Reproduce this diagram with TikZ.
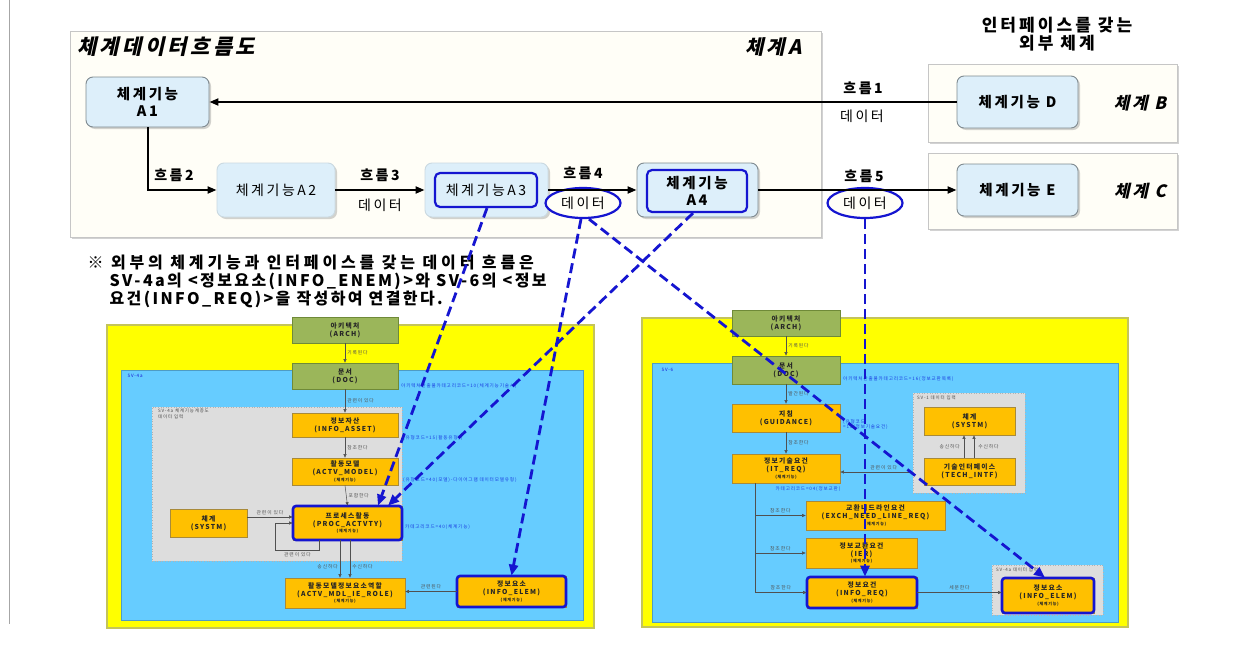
\documentclass[tikz,border=0pt]{standalone}
\usepackage{fontspec}
\setmainfont{Noto Sans CJK KR}[LetterSpace=18]
\newfontfamily\krit{Noto Sans CJK KR}[FakeSlant=0.22,LetterSpace=16]
\usetikzlibrary{arrows.meta,shadows,shapes.geometric}
\definecolor{frameC}{HTML}{FFFEF7}
\definecolor{frameD}{HTML}{C6C6C6}
\definecolor{funcC}{HTML}{DDEFFA}
\definecolor{funcD}{HTML}{7F8A90}
\definecolor{accent}{HTML}{1515D0}
\definecolor{yel}{HTML}{FFFF00}
\definecolor{yelD}{HTML}{C4C45A}
\definecolor{pnl}{HTML}{66CCFF}
\definecolor{pnlD}{HTML}{4E9CC4}
\definecolor{grayP}{HTML}{DDDDDD}
\definecolor{grn}{HTML}{9BB65A}
\definecolor{grnD}{HTML}{6F8A38}
\definecolor{org}{HTML}{FFC000}
\definecolor{orgD}{HTML}{A88A3A}
\definecolor{tinyblue}{HTML}{1A3CE0}
\definecolor{edgeG}{HTML}{505050}
\newcommand{\subl}[1]{\\[-1.5pt]{\fontsize{4}{4.5}\selectfont #1}}
\begin{document}
\begin{tikzpicture}[x=1pt,y=-1pt,
  shad/.style={drop shadow={shadow xshift=2pt,shadow yshift=-2pt,opacity=0.35}},
  frame/.style={draw=frameD,fill=frameC,line width=0.8pt,inner sep=0pt,shad},
  func/.style={draw=funcD,fill=funcC,rounded corners=7pt,line width=0.9pt,align=center,inner sep=2pt,shad},
  inner/.style={draw=accent,rounded corners=5pt,line width=2.2pt,align=center,inner sep=1pt},
  dataell/.style={ellipse,draw=accent,fill=frameC,line width=2.2pt,inner sep=0pt,minimum width=75pt,minimum height=30pt,font=\fontsize{14}{16}\selectfont},
  lbl/.style={font=\fontsize{14}{16}\selectfont},
  blbl/.style={font=\bfseries\fontsize{14}{16}\selectfont},
  itl/.style={font=\krit\bfseries\fontsize{17}{20}\selectfont},
  flow/.style={draw=black,line width=2pt,-{Triangle[length=9pt,width=7pt]}},
  yelp/.style={draw=yelD,fill=yel,line width=1.2pt,inner sep=0pt},
  bluep/.style={draw=pnlD,fill=pnl,line width=0.8pt,inner sep=0pt},
  grayp/.style={draw=gray!60,fill=grayP,line width=0.6pt,dotted,inner sep=0pt},
  plab/.style={anchor=west,font=\fontsize{4.5}{5.5}\selectfont,text=accent},
  gbox/.style={draw=grnD,fill=grn,line width=0.7pt,align=center,inner sep=1pt,font=\bfseries\fontsize{6.8}{8}\selectfont,text=black!85},
  obox/.style={draw=orgD,fill=org,line width=0.7pt,align=center,inner sep=1pt,font=\bfseries\fontsize{6.8}{8}\selectfont,text=black!85},
  sel/.style={draw=accent,line width=2.6pt,rounded corners=3pt},
  sarr/.style={draw=edgeG,line width=0.5pt,-{Triangle[length=3.5pt,width=3pt]}},
  elab/.style={font=\fontsize{4.8}{5.5}\selectfont,text=edgeG,inner sep=2pt},
  blab/.style={anchor=west,font=\fontsize{4.6}{5.5}\selectfont,text=tinyblue,inner sep=1pt},
  note/.style={anchor=west,font=\bfseries\fontsize{16}{18}\selectfont},
  link/.style={draw=accent,line width=2.8pt,dash pattern=on 10pt off 5pt,-{Triangle[length=11pt,width=9pt]}}
]
\useasboundingbox (0,0) rectangle (1233,645);
\fill[white] (0,0) rectangle (1233,645);
\draw[gray!70,line width=0.8pt] (9,0) -- (9,624);

% ---------- top frames ----------
\node[frame,minimum width=751pt,minimum height=206pt] (frA) at (445.5,134) {};
\node[frame,minimum width=249pt,minimum height=78pt] (frB) at (1052.5,103) {};
\node[frame,minimum width=249pt,minimum height=76pt] (frC) at (1052.5,191) {};
\node[anchor=west,font=\krit\bfseries\fontsize{21}{24}\selectfont,inner sep=0pt] (title) at (77,47) {체계데이터흐름도};
\node[anchor=east,font=\krit\bfseries\fontsize{20}{24}\selectfont,inner sep=0pt] (sysA) at (802,47) {체계A};
\node[font=\bfseries\fontsize{17}{18.5}\selectfont,align=center] (hdr) at (1057,34) {인터페이스를 갖는\\외부 체계};
\node[itl] (sysB) at (1140,103) {체계 B};
\node[itl] (sysC) at (1140,191) {체계 C};

% ---------- function boxes ----------
\node[func,minimum width=123pt,minimum height=50pt,font=\bfseries\fontsize{14.5}{17}\selectfont] (A1) at (147.5,102) {체계기능\\A1};
\node[func,draw=funcC!80!gray,minimum width=118pt,minimum height=54pt,font=\fontsize{14}{16}\selectfont] (A2) at (276,190) {체계기능A2};
\node[func,draw=funcC!80!gray,minimum width=123pt,minimum height=54pt] (A3o) at (486.5,190) {};
\node[inner,minimum width=102pt,minimum height=34pt,font=\fontsize{14}{16}\selectfont] (A3) at (486,190) {체계기능A3};
\node[func,minimum width=121pt,minimum height=54pt] (A4o) at (697.5,190) {};
\node[inner,minimum width=100pt,minimum height=42pt,font=\bfseries\fontsize{14.5}{17}\selectfont] (A4) at (697,191) {체계기능\\A4};
\node[func,minimum width=121pt,minimum height=52pt,font=\bfseries\fontsize{14.5}{16}\selectfont] (D) at (1017.5,102) {체계기능 D};
\node[func,minimum width=121pt,minimum height=52pt,font=\bfseries\fontsize{14.5}{16}\selectfont] (E) at (1017.5,190) {체계기능 E};
\node[dataell] (ell1) at (583,203) {데이터};
\node[dataell] (ell2) at (865,203) {데이터};

% ---------- flows ----------
\draw[flow] (D.west) -- (A1.east);
\draw[flow] (A1.south) |- (A2.west);
\draw[flow] (A2.east) -- (A3o.west);
\draw[flow] (A3o.east) -- (A4o.west);
\draw[flow] (A4o.east) -- (E.west);
\node[blbl] (f1) at (863,88) {흐름1};
\node[lbl] (d1) at (862,116) {데이터};
\node[blbl] (f2) at (174,175) {흐름2};
\node[blbl] (f3) at (380,175) {흐름3};
\node[lbl] (d3) at (380,205) {데이터};
\node[blbl] (f4) at (583,173) {흐름4};
\node[blbl] (f5) at (864,176) {흐름5};

% ---------- note ----------
\node[note] (n1) at (84,263) {\addfontfeatures{LetterSpace=24}※ 외부의 체계기능과 인터페이스를 갖는 데이터 흐름은};
\node[note] (n2) at (106,281) {\addfontfeatures{LetterSpace=15}SV-4a의 <정보요소(INFO\_ENEM)>와 SV-6의 <정보};
\node[note] (n3) at (106,299) {\addfontfeatures{LetterSpace=15}요건(INFO\_REQ)>을 작성하여 연결한다.};

% ---------- lower left (SV-4a) ----------
\node[yelp,minimum width=487pt,minimum height=303pt] (yelL) at (350.5,476.5) {};
\node[bluep,minimum width=462pt,minimum height=250pt] (bluL) at (352,495) {};
\node[plab] (sv4aL) at (124,376) {SV-4a};
\node[grayp,minimum width=250pt,minimum height=154pt] (grayL) at (277,484) {};
\node[anchor=north west,font=\fontsize{4.5}{5.2}\selectfont,align=left,text=black!70,inner sep=0pt] (grayLlab) at (158,409) {SV-4a 체계기능계층도\\데이터 입력};
\node[gbox,minimum width=106pt,minimum height=26pt] (archL) at (345,330) {아키텍처\\(ARCH)};
\node[gbox,minimum width=106pt,minimum height=26pt] (docL) at (345,376) {문서\\(DOC)};
\node[obox,minimum width=106pt,minimum height=24pt] (assetL) at (345,425) {정보자산\\(INFO\_ASSET)};
\node[obox,minimum width=106pt,minimum height=27pt] (modelL) at (345,471.5) {활동모델\\(ACTV\_MODEL)\subl{(체계기능)}};
\node[obox,minimum width=109pt,minimum height=34pt] (procL) at (347.5,523) {프로세스활동\\(PROC\_ACTVTY)\subl{(체계기능)}};
\node[sel,minimum width=109pt,minimum height=34pt] (procLs) at (347.5,523) {};
\node[obox,minimum width=77pt,minimum height=28pt] (systmL) at (208.5,523) {체계\\(SYSTM)};
\node[obox,minimum width=120pt,minimum height=30pt] (roleL) at (345,593) {활동모델정보요소역할\\(ACTV\_MDL\_IE\_ROLE)\subl{(체계기능)}};
\node[obox,minimum width=109pt,minimum height=31pt] (elemL) at (511.5,591.5) {정보요소\\(INFO\_ELEM)\subl{(체계기능)}};
\node[sel,minimum width=109pt,minimum height=31pt] (elemLs) at (511.5,591.5) {};

\draw[sarr] (archL.south) -- node[elab,right]{기록된다} (docL.north);
\draw[sarr] (docL.south) -- node[elab,right]{관련이 있다} (assetL.north);
\draw[sarr] (assetL.south) -- node[elab,right]{참조한다} (modelL.north);
\draw[sarr] (modelL.south) -- node[elab,right]{포함한다} (procL.north);
\draw[sarr] ([yshift=6pt]systmL.east) -- node[elab,above]{관련이 있다} ([yshift=6pt]procL.west);
\draw[sarr] ([xshift=-28pt]procL.south) -- ++(0,10) -- node[elab,below]{관련이 있다} ++(-44,0) |- (procL.west);
\draw[sarr] ([xshift=-7.5pt]procL.south) -- node[elab,left,pos=0.7]{송신하다} ([xshift=-7.5pt]procL.south |- roleL.north);
\draw[sarr] ([xshift=2.5pt]procL.south) -- node[elab,right,pos=0.7]{수신하다} ([xshift=2.5pt]procL.south |- roleL.north);
\draw[sarr] (elemL.west) -- node[elab,above]{관련된다} (elemL.west -| roleL.east);
\node[blab] (bl1) at (400,386) {아키텍처산출물카테고리코드=10(체계기능기술서)};
\node[blab] (bl2) at (402,438) {(유형코드=15(활동유형))};
\node[blab] (bl3) at (402,480) {(유형코드=40(모델)-다이어그램 데이터모델유형)};
\node[blab] (bl4) at (404,527) {카테고리코드=40(체계기능)};

% ---------- lower right (SV-6) ----------
\node[yelp,minimum width=486pt,minimum height=309pt] (yelR) at (885,472.5) {};
\node[bluep,minimum width=466pt,minimum height=259pt] (bluR) at (885,492.5) {};
\node[plab] (sv6R) at (658,370) {SV-6};
\node[grayp,minimum width=112pt,minimum height=100pt] (sv1g) at (969,443) {};
\node[anchor=north west,font=\fontsize{4.5}{5.2}\selectfont,text=black!70,inner sep=0pt] (sv1lab) at (917,396) {SV-1 데이터 입력};
\node[grayp,minimum width=111pt,minimum height=50pt] (sv4g) at (1047.5,590) {};
\node[anchor=north west,font=\fontsize{4.5}{5.2}\selectfont,text=black!70,inner sep=0pt] (sv4lab) at (996,568) {SV-4a 데이터 입력};
\node[gbox,minimum width=108pt,minimum height=26pt] (archR) at (786,323) {아키텍처\\(ARCH)};
\node[gbox,minimum width=108pt,minimum height=28pt] (docR) at (786,370) {문서\\(DOC)};
\node[obox,minimum width=108pt,minimum height=28pt] (guidR) at (786,418) {지침\\(GUIDANCE)};
\node[obox,minimum width=108pt,minimum height=29pt] (itreqR) at (786,468.5) {정보기술요건\\(IT\_REQ)\subl{(체계기능)}};
\node[obox,minimum width=91pt,minimum height=28pt] (systmR) at (969.5,421) {체계\\(SYSTM)};
\node[obox,minimum width=91pt,minimum height=27pt] (techR) at (969.5,471.5) {기술인터페이스\\(TECH\_INTF)};
\node[obox,minimum width=139pt,minimum height=29pt] (exchR) at (875.5,515.5) {교환니드라인요건\\(EXCH\_NEED\_LINE\_REQ)\subl{(체계기능)}};
\node[obox,minimum width=111pt,minimum height=30pt] (ierR) at (861.5,553) {정보교환요건\\(IER)\subl{(체계기능)}};
\node[obox,minimum width=110pt,minimum height=31pt] (ireqR) at (862,592.5) {정보요건\\(INFO\_REQ)\subl{(체계기능)}};
\node[sel,minimum width=110pt,minimum height=31pt] (ireqRs) at (862,592.5) {};
\node[obox,minimum width=92pt,minimum height=35pt] (elemR) at (1048,595.5) {정보요소\\(INFO\_ELEM)\subl{(체계기능)}};
\node[sel,minimum width=92pt,minimum height=35pt] (elemRs) at (1048,595.5) {};

\draw[sarr] (archR.south) -- node[elab,right]{기록된다} (docR.north);
\draw[sarr] (docR.south) -- node[elab,right]{발간된다} (guidR.north);
\draw[sarr] (guidR.south) -- node[elab,right]{참조한다} (itreqR.north);
\coordinate (itin) at ([yshift=-3.5pt]itreqR.east);
\draw[sarr] (sv1g.west |- itin) -- node[elab,above,pos=0.4]{관련이 있다} (itin);
\draw[sarr] ([xshift=-5.5pt]techR.north) -- node[elab,left,xshift=-2pt]{송신하다} ([xshift=-5.5pt]techR.north |- systmR.south);
\draw[sarr] ([xshift=4.5pt]techR.north) -- node[elab,right,xshift=2pt]{수신하다} ([xshift=4.5pt]techR.north |- systmR.south);
\coordinate (trunk) at ([xshift=-31pt]itreqR.south);
\draw[sarr] (trunk) |- node[elab,above,pos=0.75]{참조한다} (ireqR.west);
\draw[sarr] (trunk |- exchR.west) -- node[elab,above]{참조한다} (exchR.west);
\draw[sarr] (trunk |- ierR.west) -- node[elab,above]{참조한다} (ierR.west);
\draw[sarr] (ireqR.east) -- node[elab,above]{세분한다} (ireqR.east -| elemR.west);
\node[blab] (br1) at (842,379) {아키텍처산출물카테고리코드=16(정보교환목록)};
\node[blab,align=left,anchor=north west] (br2) at (842,418) {(유형코드\\=13(정보기술요건)};
\node[blab,anchor=center] (br3) at (808,489) {카테고리코드=04(정보교환)};

% ---------- dashed links ----------
\draw[link] ([xshift=1pt]A3.south) -- ([xshift=30.5pt]procL.north);
\draw[link] ([xshift=-4pt]A4.south) -- ([xshift=40.5pt]procL.north);
\draw[link] ([xshift=-2pt]ell1.south) -- (elemL.north);
\draw[link] ([xshift=6pt]ell1.south) -- ([xshift=-3pt]elemR.north);
\draw[link] (ell2.south) -- (ell2.south |- ireqR.north);
\end{tikzpicture}
\end{document}
